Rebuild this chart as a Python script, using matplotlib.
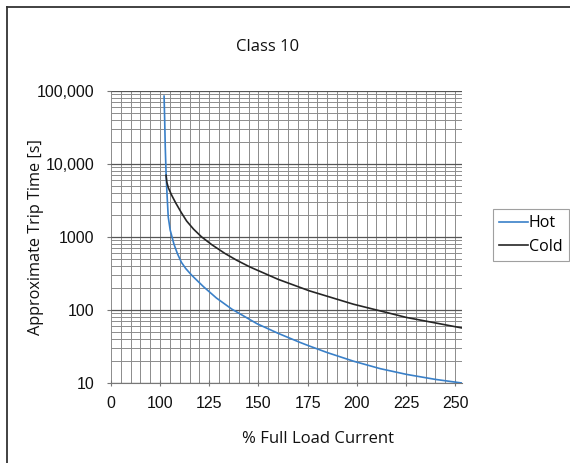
import numpy as np
import matplotlib
matplotlib.use("Agg")
import matplotlib.pyplot as plt
from matplotlib.lines import Line2D
from matplotlib.ticker import MultipleLocator, LogLocator, NullFormatter

# values (% full load current -> trip time in s)
hot_x = [102.0, 102.3, 102.6, 103.0, 103.4, 104.1, 105.1, 107.0, 108.8, 110.8,
         113.0, 116.0, 122.0, 128.6, 136.4, 149.2, 160.0, 171.2, 175.9, 185.0,
         198.3, 212.0, 225.4, 240.0, 253.4]
hot_y = [85000, 40000, 17000, 7500, 4300, 1890, 1245, 800, 590, 450,
         370, 300, 209, 146, 103, 65, 47.9, 35.9, 32.1, 26.1,
         19.9, 15.7, 13.1, 11.2, 10.0]

cold_x = [103.0, 103.4, 104.2, 105.8, 108.0, 110.8, 113.5, 117.0, 121.0, 126.3,
          132.9, 139.0, 145.8, 160.0, 175.9, 198.3, 225.4, 253.4]
cold_y = [7000, 5600, 4700, 3760, 2900, 2150, 1650, 1280, 1007, 783,
          596, 479, 387, 263, 183, 120, 78.9, 56.8]

x_ticks = [75, 100, 125, 150, 175, 200, 225, 250]
x_labels = ["0", "100", "125", "150", "175", "200", "225", "250"]
y_ticks = [10, 100, 1000, 10000, 100000]
y_labels = ["10", "100", "1000", "10,000", "100,000"]

W, H = 570, 463
fig = plt.figure(figsize=(W / 100, H / 100), dpi=100)
ax = fig.add_axes([111 / W, 1 - 383 / H, (462 - 111) / W, (383 - 91) / H])

label_font = ["Open Sans", "DejaVu Sans"]

ax.plot(hot_x, hot_y, color="#3a80c8", lw=1.2, label="Hot", zorder=3)
ax.plot(cold_x, cold_y, color="#262626", lw=1.2, label="Cold", zorder=3)

ax.set_yscale("log")
ax.set_xlim(75, 253.5)
ax.set_ylim(10, 100000)

ax.set_xticks(x_ticks, x_labels)
ax.xaxis.set_minor_locator(MultipleLocator(5))
ax.set_yticks(y_ticks, y_labels)
ax.yaxis.set_minor_locator(LogLocator(base=10, subs=np.arange(2, 10)))
ax.yaxis.set_minor_formatter(NullFormatter())

ax.grid(which="major", axis="y", color="#555555", lw=0.9)
ax.grid(which="minor", axis="y", color="#8c8c8c", lw=0.7)
ax.grid(which="both", axis="x", color="#8c8c8c", lw=0.7)
ax.set_axisbelow(True)

for s in ["top", "right", "left"]:
    ax.spines[s].set_visible(False)
ax.spines["bottom"].set_color("#777777")
ax.spines["bottom"].set_linewidth(0.8)

ax.tick_params(axis="x", which="major", direction="inout", length=5, width=0.8,
               color="#777777", pad=7, labelsize=11.5,
               labelfontfamily="Liberation Sans", labelcolor="#111111")
ax.tick_params(axis="x", which="minor", length=0)
ax.tick_params(axis="y", which="major", direction="out", length=3, width=0.8,
               color="#777777", pad=9, labelsize=11.5,
               labelfontfamily="Liberation Sans", labelcolor="#111111")
ax.tick_params(axis="y", which="minor", length=0)

fig.text(268 / W, 1 - 47 / H, "Class 10", ha="center", va="center",
         fontsize=12, family=label_font, color="#111111")
fig.text(318 / W, 1 - 439 / H, "% Full Load Current", ha="center", va="center",
         fontsize=12, family=label_font, color="#111111")
fig.text(36 / W, 1 - 237 / H, "Approximate Trip Time [s]", ha="center",
         va="center", rotation=90, fontsize=11.7, family=label_font,
         color="#111111")

leg = ax.legend(loc="upper left", bbox_to_anchor=(493 / W, 1 - 209 / H),
                bbox_transform=fig.transFigure, borderaxespad=0,
                fancybox=False, frameon=True, handlelength=1.8,
                handletextpad=0.05, borderpad=0.4, labelspacing=0.45,
                prop={"family": label_font, "size": 11.5})
leg.get_frame().set_edgecolor("#888888")
leg.get_frame().set_linewidth(0.8)

# outer frame (left and top edges visible in the reference)
fig.add_artist(Line2D([7 / W, 7 / W], [0, 1 - 7 / H], color="#333333", lw=1.3))
fig.add_artist(Line2D([7 / W, 1], [1 - 7 / H, 1 - 7 / H], color="#333333", lw=1.3))

fig.savefig("out.png", dpi=100)
